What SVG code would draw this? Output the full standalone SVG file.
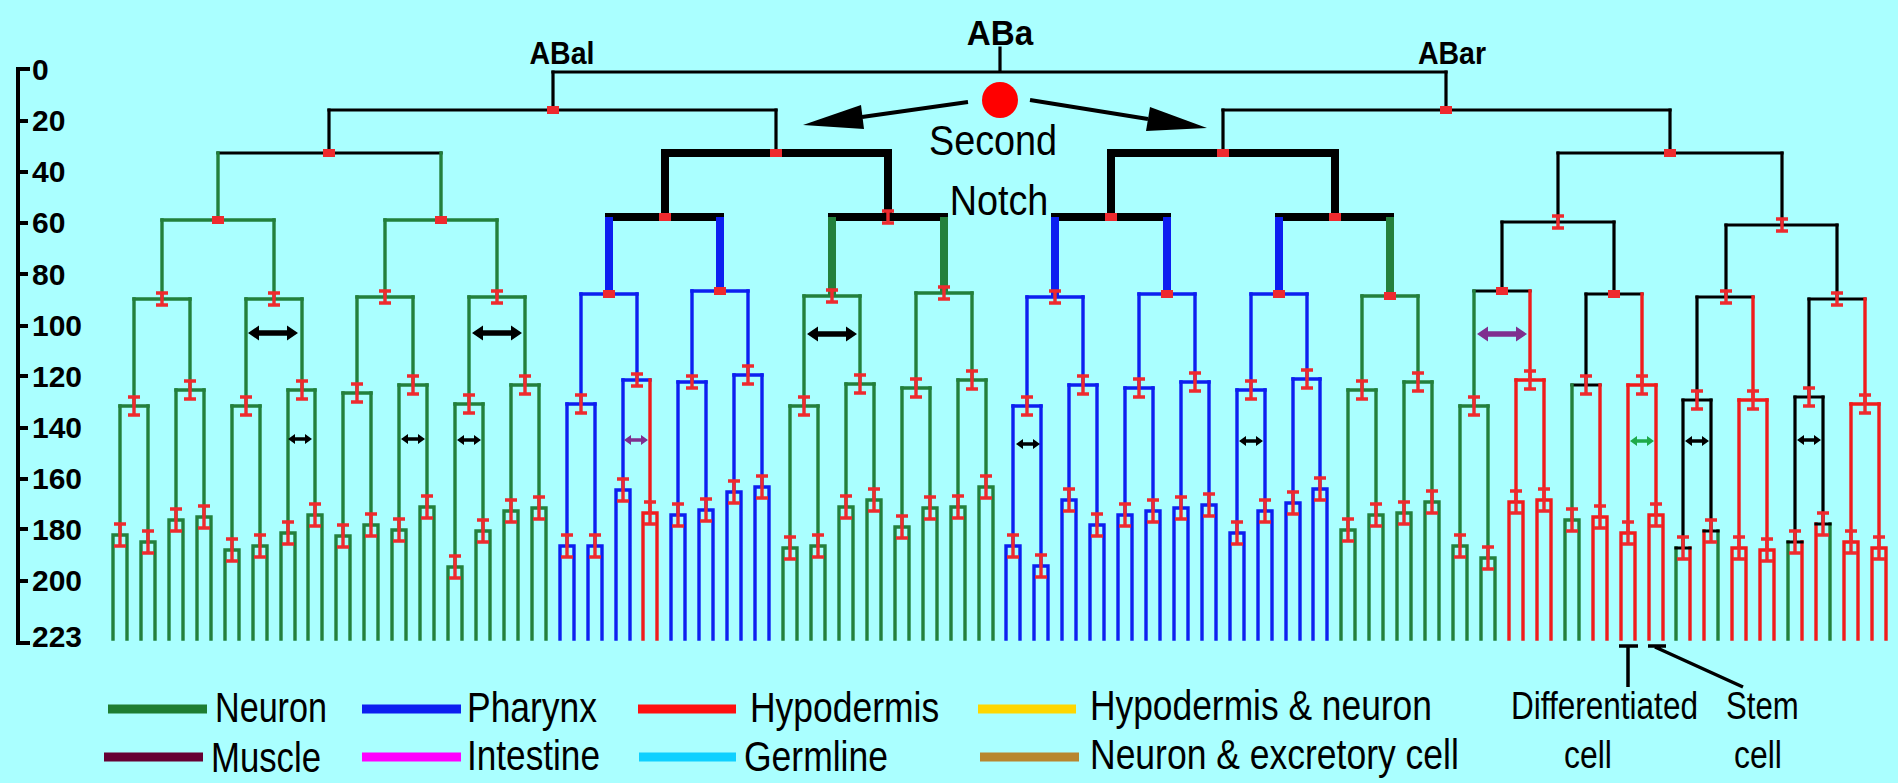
<svg xmlns="http://www.w3.org/2000/svg" xmlns:xlink="http://www.w3.org/1999/xlink" width="1898" height="783" viewBox="0 0 1898 783">
<style>
#tree path{fill:none;stroke-linecap:square}
.k{stroke:#000;stroke-width:3.2}
.K{stroke:#000;stroke-width:8}
.g{stroke:#23803c;stroke-width:3.4}
.G{stroke:#23803c;stroke-width:8;stroke-linecap:butt!important}
.b{stroke:#0d1ff0;stroke-width:3.4}
.B{stroke:#0d1ff0;stroke-width:8;stroke-linecap:butt!important}
.r{stroke:#f01c1c;stroke-width:3.4}
.ax{font-family:"Liberation Sans",Arial,sans-serif;font-weight:bold;font-size:30px;fill:#000}
.nm{font-family:"Liberation Sans",Arial,sans-serif;font-weight:bold;fill:#000}
.lg{font-family:"Liberation Sans",Arial,sans-serif;font-size:42px;fill:#000}
.lr{font-family:"Liberation Sans",Arial,sans-serif;font-size:38px;fill:#000}
.ll{stroke-width:9;fill:none}
</style>
<defs>
<path id="i11" d="M-6,-11H6M0,-11V11M-6,11H6" fill="none" stroke="#ee2a2e" stroke-width="3.4"/>
<path id="i9" d="M-6,-9H6M0,-9V9M-6,9H6" fill="none" stroke="#ee2a2e" stroke-width="3.4"/>
<path id="i6" d="M-6,-6H6M0,-6V6M-6,6H6" fill="none" stroke="#ee2a2e" stroke-width="3.4"/>
<rect id="sq" x="-6" y="-4" width="12" height="8" fill="#ee2a2e"/>
<path id="da" d="M-25,0L-14,-7.5V-2.8H14V-7.5L25,0L14,7.5V2.8H-14V7.5Z"/>
<path id="ds" d="M-12,0L-5,-5V-1.8H5V-5L12,0L5,5V1.8H-5V5Z"/>
</defs>
<rect width="1898" height="783" fill="#aaffff"/>

<g id="axis">
<path d="M30,69H18V643H30M18,121H28M18,172H28M18,223H28M18,274H28M18,326H28M18,376H28M18,428H28M18,479H28M18,529H28M18,581H28" fill="none" stroke="#000" stroke-width="4"/>
<text class="ax" x="32" y="80">0</text>
<text class="ax" x="32" y="131">20</text>
<text class="ax" x="32" y="182">40</text>
<text class="ax" x="32" y="233">60</text>
<text class="ax" x="32" y="285">80</text>
<text class="ax" x="32" y="336">100</text>
<text class="ax" x="32" y="387">120</text>
<text class="ax" x="32" y="438">140</text>
<text class="ax" x="32" y="489">160</text>
<text class="ax" x="32" y="540">180</text>
<text class="ax" x="32" y="591">200</text>
<text class="ax" x="32" y="647">223</text>
</g>

<g id="tree">
<g id="d0-d2">
<path class="k" d="M1000,48V72M553,72H1446"/>
<path class="k" d="M553,72V110M329,110H776M1446,72V110M1223,110H1670"/>
<path class="k" d="M329,110V153M218,153H441M776,110V153M1223,110V153M1670,110V153M1558,153H1782"/>
<path class="K" d="M665,153H888M1111,153H1335"/>
</g>
<g id="d3">
<path class="g" d="M218,153V220M162,220H274M441,153V220M385,220H497"/>
<path class="K" d="M665,153V217M609,217H720M888,153V217M832,217H944M1111,153V217M1055,217H1167M1335,153V217M1279,217H1390"/>
<path class="k" d="M1558,153V222M1502,222H1614M1782,153V225M1726,225H1837"/>
</g>
<g id="d4">
<path class="g" d="M162,220V299M134,299H190M274,220V299M246,299H302M385,220V297M357,297H413M497,220V297M469,297H525M804,296H860M916,293H972M1362,296H1418"/>
<path class="B" d="M609,217V294M720,217V291M1055,217V297M1167,217V294M1279,217V294"/>
<path class="G" d="M832,217V296M944,217V293M1390,217V296"/>
<path class="b" d="M581,294H637M692,291H748M1027,297H1083M1139,294H1195M1251,294H1307"/>
<path class="k" d="M1502,222V291M1474,291H1530M1614,222V294M1586,294H1642M1726,225V297M1697,297H1753M1837,225V299M1809,299H1865"/>
</g>
<g id="d5">
<path class="g" d="M134,299V406M120,406H148M190,299V390M176,390H204M246,299V406M232,406H260M302,299V390M288,390H315M357,297V393M343,393H371M413,297V385M399,385H427M469,297V404M455,404H483M525,297V385M511,385H539M804,296V406M790,406H818M860,296V384M846,384H874M916,293V388M902,388H930M972,293V380M958,380H986M1362,296V390M1348,390H1376M1418,296V382M1404,382H1432M1474,291V406M1460,406H1488"/>
<path class="b" d="M581,294V404M567,404H595M637,294V380M623,380H650M692,291V382M678,382H706M748,291V375M734,375H762M1027,297V406M1013,406H1041M1083,297V385M1069,385H1097M1139,294V388M1125,388H1153M1195,294V382M1181,382H1209M1251,294V390M1237,390H1265M1307,294V379M1293,379H1320"/>
<path class="r" d="M1530,291V380M1516,380H1544M1642,294V385M1628,385H1656M1753,297V400M1739,400H1767M1865,299V404M1851,404H1879"/>
<path class="k" d="M1586,294V385M1572,385H1600M1697,297V400M1683,400H1711M1809,299V397M1795,397H1823"/>
</g>
<g id="d6">
<path class="g" d="M120,406V535M113,639V535H127V639M148,406V542M141,639V542H155V639M176,390V520M169,639V520H183V639M204,390V517M197,639V517H211V639M232,406V550M225,639V550H239V639M260,406V546M253,639V546H267V639M288,390V533M281,639V533H295V639M315,390V515M308,639V515H322V639M343,393V536M336,639V536H350V639M371,393V525M364,639V525H378V639M399,385V530M392,639V530H406V639M427,385V507M420,639V507H434V639M455,404V567M448,639V567H462V639M483,404V531M476,639V531H490V639M511,385V511M504,639V511H518V639M539,385V508M532,639V508H546V639"/>
<path class="b" d="M567,404V546M560,639V546H574V639M595,404V546M588,639V546H602V639M623,380V490M616,639V490H630V639M678,382V515M671,639V515H685V639M706,382V510M699,639V510H713V639M734,375V492M727,639V492H741V639M762,375V487M755,639V487H769V639"/>
<path class="r" d="M650,380V513M643,639V513H657V639"/>
<path class="g" d="M790,406V548M783,639V548H797V639M818,406V546M811,639V546H825V639M846,384V507M839,639V507H853V639M874,384V500M867,639V500H881V639M902,388V527M895,639V527H909V639M930,388V508M923,639V508H937V639M958,380V507M951,639V507H965V639M986,380V487M979,639V487H993V639"/>
<path class="b" d="M1013,406V546M1006,639V546H1020V639M1041,406V566M1034,639V566H1048V639M1069,385V500M1062,639V500H1076V639M1097,385V525M1090,639V525H1104V639M1125,388V515M1118,639V515H1132V639M1153,388V511M1146,639V511H1160V639M1181,382V508M1174,639V508H1188V639M1209,382V505M1202,639V505H1216V639M1237,390V533M1230,639V533H1244V639M1265,390V511M1258,639V511H1272V639M1293,379V503M1286,639V503H1300V639M1320,379V489M1313,639V489H1327V639"/>
<path class="g" d="M1348,390V530M1341,639V530H1355V639M1376,390V515M1369,639V515H1383V639M1404,382V513M1397,639V513H1411V639M1432,382V502M1425,639V502H1439V639M1460,406V546M1453,639V546H1467V639M1488,406V558M1481,639V558H1495V639M1572,385V520M1565,639V520H1579V639"/>
<path class="r" d="M1516,380V502M1509,639V502H1523V639M1544,380V500M1537,639V500H1551V639M1600,385V517M1593,639V517H1607V639M1628,385V533M1621,639V533H1635V639M1656,385V515M1649,639V515H1663V639M1739,400V548M1732,639V548H1746V639M1767,400V550M1760,639V550H1774V639M1851,404V542M1844,639V542H1858V639M1879,404V548M1872,639V548H1886V639"/>
<path class="g" d="M1676,548V639M1718,531V639M1788,542V639M1830,524V639"/>
<path class="r" d="M1690,548V639M1704,531V639M1802,542V639M1816,524V639"/>
<path class="k" d="M1683,400V548M1676,548H1690M1711,400V531M1704,531H1718M1795,397V542M1788,542H1802M1823,397V524M1816,524H1830"/>
</g>
</g>

<g id="markers">
<use href="#sq" x="553" y="110"/><use href="#sq" x="1446" y="110"/>
<use href="#sq" x="329" y="153"/><use href="#sq" x="776" y="153"/><use href="#sq" x="1223" y="153"/><use href="#sq" x="1670" y="153"/>
<use href="#sq" x="218" y="220"/><use href="#sq" x="441" y="220"/><use href="#sq" x="665" y="217"/><use href="#sq" x="1111" y="217"/><use href="#sq" x="1335" y="217"/>
<use href="#i6" x="888" y="217"/><use href="#i6" x="1558" y="222"/><use href="#i6" x="1782" y="225"/>
<use href="#i6" x="162" y="299"/><use href="#i6" x="274" y="299"/><use href="#i6" x="385" y="297"/><use href="#i6" x="497" y="297"/>
<use href="#sq" x="609" y="294"/><use href="#sq" x="720" y="291"/><use href="#i6" x="832" y="296"/><use href="#i6" x="944" y="293"/>
<use href="#i6" x="1055" y="297"/><use href="#sq" x="1167" y="294"/><use href="#sq" x="1279" y="294"/><use href="#sq" x="1390" y="296"/>
<use href="#sq" x="1502" y="291"/><use href="#sq" x="1614" y="294"/><use href="#i6" x="1726" y="297"/><use href="#i6" x="1837" y="299"/>
<use href="#i9" x="134" y="406"/><use href="#i9" x="190" y="390"/><use href="#i9" x="246" y="406"/><use href="#i9" x="302" y="390"/>
<use href="#i9" x="357" y="393"/><use href="#i9" x="413" y="385"/><use href="#i9" x="469" y="404"/><use href="#i9" x="525" y="385"/>
<use href="#i9" x="581" y="404"/><use href="#i6" x="637" y="380"/><use href="#i6" x="692" y="382"/><use href="#i9" x="748" y="375"/>
<use href="#i9" x="804" y="406"/><use href="#i9" x="860" y="384"/><use href="#i9" x="916" y="388"/><use href="#i9" x="972" y="380"/>
<use href="#i9" x="1027" y="406"/><use href="#i9" x="1083" y="385"/><use href="#i9" x="1139" y="388"/><use href="#i9" x="1195" y="382"/>
<use href="#i9" x="1251" y="390"/><use href="#i9" x="1307" y="379"/><use href="#i9" x="1362" y="390"/><use href="#i9" x="1418" y="382"/>
<use href="#i9" x="1474" y="406"/><use href="#i9" x="1530" y="380"/><use href="#i9" x="1586" y="385"/><use href="#i9" x="1642" y="385"/>
<use href="#i9" x="1697" y="400"/><use href="#i9" x="1753" y="400"/><use href="#i9" x="1809" y="397"/><use href="#i9" x="1865" y="404"/>
<use href="#i11" x="120" y="535"/><use href="#i11" x="148" y="542"/><use href="#i11" x="176" y="520"/><use href="#i11" x="204" y="517"/>
<use href="#i11" x="232" y="550"/><use href="#i11" x="260" y="546"/><use href="#i11" x="288" y="533"/><use href="#i11" x="315" y="515"/>
<use href="#i11" x="343" y="536"/><use href="#i11" x="371" y="525"/><use href="#i11" x="399" y="530"/><use href="#i11" x="427" y="507"/>
<use href="#i11" x="455" y="567"/><use href="#i11" x="483" y="531"/><use href="#i11" x="511" y="511"/><use href="#i11" x="539" y="508"/>
<use href="#i11" x="567" y="546"/><use href="#i11" x="595" y="546"/><use href="#i11" x="623" y="490"/><use href="#i11" x="650" y="513"/>
<use href="#i11" x="678" y="515"/><use href="#i11" x="706" y="510"/><use href="#i11" x="734" y="492"/><use href="#i11" x="762" y="487"/>
<use href="#i11" x="790" y="548"/><use href="#i11" x="818" y="546"/><use href="#i11" x="846" y="507"/><use href="#i11" x="874" y="500"/>
<use href="#i11" x="902" y="527"/><use href="#i11" x="930" y="508"/><use href="#i11" x="958" y="507"/><use href="#i11" x="986" y="487"/>
<use href="#i11" x="1013" y="546"/><use href="#i11" x="1041" y="566"/><use href="#i11" x="1069" y="500"/><use href="#i11" x="1097" y="525"/>
<use href="#i11" x="1125" y="515"/><use href="#i11" x="1153" y="511"/><use href="#i11" x="1181" y="508"/><use href="#i11" x="1209" y="505"/>
<use href="#i11" x="1237" y="533"/><use href="#i11" x="1265" y="511"/><use href="#i11" x="1293" y="503"/><use href="#i11" x="1320" y="489"/>
<use href="#i11" x="1348" y="530"/><use href="#i11" x="1376" y="515"/><use href="#i11" x="1404" y="513"/><use href="#i11" x="1432" y="502"/>
<use href="#i11" x="1460" y="546"/><use href="#i11" x="1488" y="558"/><use href="#i11" x="1516" y="502"/><use href="#i11" x="1544" y="500"/>
<use href="#i11" x="1572" y="520"/><use href="#i11" x="1600" y="517"/><use href="#i11" x="1628" y="533"/><use href="#i11" x="1656" y="515"/>
<use href="#i11" x="1683" y="548"/><use href="#i11" x="1711" y="531"/><use href="#i11" x="1739" y="548"/><use href="#i11" x="1767" y="550"/>
<use href="#i11" x="1795" y="542"/><use href="#i11" x="1823" y="524"/><use href="#i11" x="1851" y="542"/><use href="#i11" x="1879" y="548"/>
</g>

<g id="arrows">
<use href="#da" x="273" y="333" fill="#000"/>
<use href="#da" x="497" y="333" fill="#000"/>
<use href="#da" x="832" y="334" fill="#000"/>
<use href="#da" x="1502" y="334" fill="#7f2f8f"/>
<use href="#ds" x="300" y="439" fill="#000"/>
<use href="#ds" x="413" y="439" fill="#000"/>
<use href="#ds" x="469" y="440" fill="#000"/>
<use href="#ds" x="636" y="440" fill="#7f2f8f"/>
<use href="#ds" x="1028" y="444" fill="#000"/>
<use href="#ds" x="1251" y="441" fill="#000"/>
<use href="#ds" x="1642" y="441" fill="#1eaa4a"/>
<use href="#ds" x="1697" y="441" fill="#000"/>
<use href="#ds" x="1809" y="440" fill="#000"/>
</g>

<g id="notch">
<circle cx="1000" cy="100" r="18" fill="#ff0000"/>
<path d="M968,102L862,117M1030,100L1148,119" stroke="#000" stroke-width="4" fill="none"/>
<path d="M803,125L861,105L864,129Z" fill="#000"/>
<path d="M1207,128L1150,107L1146,131Z" fill="#000"/>
<text class="lg" transform="translate(993,155) scale(0.9,1)" font-size="45" text-anchor="middle">Second</text>
<text class="lg" transform="translate(999,215) scale(0.9,1)" font-size="45" text-anchor="middle">Notch</text>
</g>

<g id="names">
<text class="nm" transform="translate(1000,45) scale(0.95,1)" font-size="35" text-anchor="middle">ABa</text>
<text class="nm" transform="translate(562,64) scale(0.92,1)" font-size="31" text-anchor="middle">ABal</text>
<text class="nm" transform="translate(1452,64) scale(0.92,1)" font-size="31" text-anchor="middle">ABar</text>
</g>

<g id="legend">
<path class="ll" stroke="#1e7d32" d="M108,709H207"/>
<path class="ll" stroke="#0d1ff0" d="M362,709H461"/>
<path class="ll" stroke="#ff1010" d="M638,709H736"/>
<path class="ll" stroke="#ffd700" d="M978,709H1076"/>
<path class="ll" stroke="#660033" d="M104,757H203"/>
<path class="ll" stroke="#ff00ff" d="M362,757H461"/>
<path class="ll" stroke="#10d0ff" d="M639,757H736"/>
<path class="ll" stroke="#b8862e" d="M980,757H1079"/>
<text class="lg" transform="translate(215,722) scale(0.813,1)">Neuron</text>
<text class="lg" transform="translate(467,722) scale(0.844,1)">Pharynx</text>
<text class="lg" transform="translate(750,722) scale(0.844,1)">Hypodermis</text>
<text class="lg" transform="translate(1090,720) scale(0.842,1)">Hypodermis &amp; neuron</text>
<text class="lg" transform="translate(211,772) scale(0.827,1)">Muscle</text>
<text class="lg" transform="translate(467,770) scale(0.838,1)">Intestine</text>
<text class="lg" transform="translate(744,771) scale(0.845,1)">Germline</text>
<text class="lg" transform="translate(1090,769) scale(0.845,1)">Neuron &amp; excretory cell</text>
</g>

<g id="pointers">
<path d="M1619,646H1638M1628,646V687M1648,646H1666M1655,647L1743,687" stroke="#000" stroke-width="3.5" fill="none"/>
<text class="lr" transform="translate(1511,719) scale(0.83,1)">Differentiated</text>
<text class="lr" transform="translate(1726,719) scale(0.82,1)">Stem</text>
<text class="lr" transform="translate(1564,768) scale(0.84,1)">cell</text>
<text class="lr" transform="translate(1734,768) scale(0.84,1)">cell</text>
</g>
</svg>
